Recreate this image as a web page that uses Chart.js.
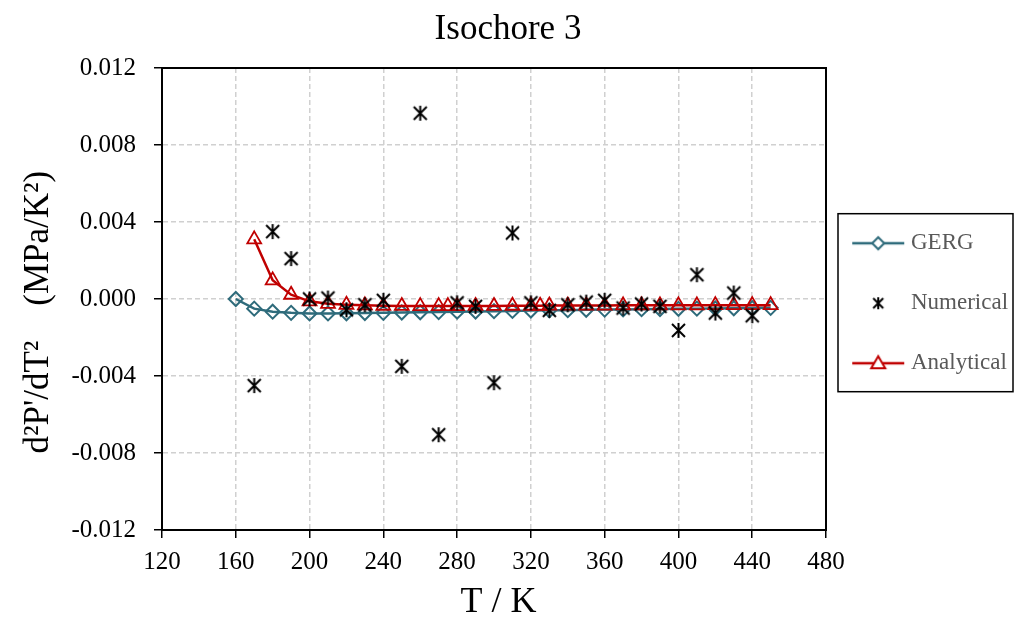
<!DOCTYPE html>
<html>
<head>
<meta charset="utf-8">
<script src="https://cdn.jsdelivr.net/npm/chart.js@4"></script>
<style>
  html, body { margin: 0; padding: 0; background: #fff; }
  #chart { display: block; }
</style>
</head>
<body>
<canvas id="chart" width="1016" height="628"></canvas>
<script>
// temperatures (K) and second derivative of pressure (MPa/K^2)
const gergT = [160, 170, 180, 190, 200, 210, 220, 230, 240, 250, 260, 270, 280, 290, 300,
  310, 320, 330, 340, 350, 360, 370, 380, 390, 400, 410, 420, 430, 440, 450];
const gergVals = [0.00000, -0.00050, -0.00066, -0.00072, -0.00075, -0.00075, -0.00074, -0.00073,
  -0.00072, -0.00070, -0.00069, -0.00068, -0.00066, -0.00065, -0.00063, -0.00062, -0.00060,
  -0.00059, -0.00058, -0.00056, -0.00055, -0.00054, -0.00053, -0.00052, -0.00051, -0.00050,
  -0.00049, -0.00048, -0.00047, -0.00046];

const numT = [170, 180, 190, 200, 210, 220, 230, 240, 250, 260, 270, 280, 290, 300,
  310, 320, 330, 340, 350, 360, 370, 380, 390, 400, 410, 420, 430, 440];
const numVals = [-0.00450, 0.00350, 0.00210, 0.00000, 0.00005, -0.00056, -0.00030, -0.00007,
  -0.00350, 0.00965, -0.00705, -0.00020, -0.00038, -0.00435, 0.00343, -0.00020, -0.00059,
  -0.00030, -0.00016, -0.00007, -0.00047, -0.00026, -0.00038, -0.00163, 0.00126, -0.00073,
  0.00031, -0.00087];

const anaT = [170, 180, 190, 200, 210, 220, 230, 240, 250, 260, 270, 275, 280, 290, 300,
  310, 320, 325, 330, 340, 350, 360, 370, 380, 390, 400, 410, 420, 430, 440, 450];
const anaVals = [0.00310, 0.00097, 0.00022, -0.00012, -0.00025, -0.00030, -0.00033, -0.00035,
  -0.00036, -0.00037, -0.00037, -0.00037, -0.00037, -0.00036, -0.00036, -0.00035, -0.00035,
  -0.00035, -0.00034, -0.00034, -0.00034, -0.00034, -0.00033, -0.00033, -0.00033, -0.00033,
  -0.00033, -0.00032, -0.00032, -0.00032, -0.00032];

const xTicks = [120, 160, 200, 240, 280, 320, 360, 400, 440, 480];
const yTicks = [-0.012, -0.008, -0.004, 0.000, 0.004, 0.008, 0.012];

const GERG_COLOR = "#2e6b7b";
const ANA_COLOR = "#c00000";
const SERIF = "'Liberation Serif', 'Times New Roman', serif";

const toPoints = (xs, ys) => xs.map((x, i) => ({ x: x, y: ys[i] }));

// asterisk marker: an X with a vertical bar through it
function makeAsterisk(size) {
  const c = document.createElement("canvas");
  c.width = size;
  c.height = size;
  const g = c.getContext("2d");
  const m = 2;
  g.strokeStyle = "#000";
  g.lineWidth = 2;
  g.beginPath();
  g.moveTo(m, m); g.lineTo(size - m, size - m);
  g.moveTo(size - m, m); g.lineTo(m, size - m);
  g.moveTo(size / 2, 1); g.lineTo(size / 2, size - 1);
  g.stroke();
  return c;
}

// legend swatch: line with the series marker in the middle
function makeSwatch(kind) {
  const c = document.createElement("canvas");
  c.width = 60;
  c.height = 20;
  const g = c.getContext("2d");
  const cx = 27, cy = 10;
  if (kind === "numerical") {
    g.drawImage(makeAsterisk(14), cx - 7, cy - 7);
    return c;
  }
  const col = kind === "gerg" ? GERG_COLOR : ANA_COLOR;
  g.strokeStyle = col;
  g.lineWidth = 2.5;
  g.beginPath();
  g.moveTo(1, cy); g.lineTo(53, cy);
  g.stroke();
  g.fillStyle = "#fff";
  g.lineWidth = 2;
  g.beginPath();
  if (kind === "gerg") {
    g.moveTo(cx, cy - 6); g.lineTo(cx + 6, cy); g.lineTo(cx, cy + 6); g.lineTo(cx - 6, cy);
  } else {
    g.moveTo(cx, cy - 7); g.lineTo(cx + 7, cy + 5); g.lineTo(cx - 7, cy + 5);
  }
  g.closePath();
  g.fill();
  g.stroke();
  return c;
}

const swatches = {
  GERG: makeSwatch("gerg"),
  Numerical: makeSwatch("numerical"),
  Analytical: makeSwatch("analytical"),
};

// black frame round the plot and a box round the legend
const framePlugin = {
  id: "frame",
  afterDraw(chart) {
    const { ctx, chartArea: a, legend } = chart;
    ctx.save();
    ctx.strokeStyle = "#000";
    ctx.lineWidth = 2;
    ctx.strokeRect(a.left, a.top, a.right - a.left, a.bottom - a.top);
    const hb = legend.legendHitBoxes;
    if (hb && hb.length) {
      const top = hb[0].top + 11 - 29;
      const bottom = hb[hb.length - 1].top + 11 + 29;
      ctx.lineWidth = 1.5;
      ctx.strokeRect(legend.left + 12, top, legend.right - legend.left - 15, bottom - top);
    }
    ctx.restore();
  },
};

const gridOpts = {
  color: "#d0d0d0",
  lineWidth: 1.5,
  tickColor: "#000",
  tickLength: 8,
  tickWidth: 1.5,
  tickBorderDash: [],
};

new Chart(document.getElementById("chart"), {
  type: "scatter",
  data: {
    datasets: [
      {
        label: "GERG",
        data: toPoints(gergT, gergVals),
        showLine: true,
        borderColor: GERG_COLOR,
        borderWidth: 2.5,
        pointStyle: "rectRot",
        pointRadius: 7,
        pointBorderWidth: 2,
        pointBackgroundColor: "rgba(255,255,255,0)",
        pointBorderColor: GERG_COLOR,
        order: 3,
      },
      {
        label: "Numerical",
        data: toPoints(numT, numVals),
        showLine: false,
        pointStyle: makeAsterisk(17),
        pointRadius: 8,
        order: 1,
      },
      {
        label: "Analytical",
        data: toPoints(anaT, anaVals),
        showLine: true,
        borderColor: ANA_COLOR,
        borderWidth: 2.5,
        pointStyle: "triangle",
        pointRadius: 8,
        pointBorderWidth: 1.8,
        pointBackgroundColor: "rgba(255,255,255,0)",
        pointBorderColor: ANA_COLOR,
        order: 2,
      },
    ],
  },
  options: {
    responsive: false,
    animation: false,
    layout: { padding: 0 },
    plugins: {
      title: {
        display: true,
        text: "Isochore 3",
        color: "#000",
        font: { family: SERIF, size: 35, weight: "normal" },
        padding: { top: 9, bottom: 17 },
      },
      legend: {
        position: "right",
        fullSize: false,
        maxWidth: 190,
        // blank title just nudges the entries down a little
        title: { display: true, text: " ", font: { size: 7 }, padding: 0 },
        labels: {
          usePointStyle: true,
          pointStyleWidth: 36.5,
          padding: 37,
          color: "#595959",
          font: { family: SERIF, size: 23 },
          generateLabels: (chart) =>
            chart.data.datasets.map((ds, i) => ({
              text: ds.label,
              pointStyle: swatches[ds.label],
              fontColor: "#595959",
              hidden: false,
              datasetIndex: i,
              lineWidth: 0,
            })),
        },
      },
      tooltip: { enabled: false },
    },
    scales: {
      x: {
        type: "linear",
        min: 120,
        max: 480,
        afterFit: (s) => { s.height = 98; },
        afterBuildTicks: (s) => { s.ticks = xTicks.map((v) => ({ value: v })); },
        ticks: {
          color: "#000",
          font: { family: SERIF, size: 25 },
          padding: 9,
          maxRotation: 0,
        },
        grid: gridOpts,
        border: { color: "#000", width: 2, dash: [5, 3] },
        title: {
          display: true,
          text: " T / K",
          color: "#000",
          font: { family: SERIF, size: 36 },
          padding: { top: 0, bottom: 4 },
        },
      },
      y: {
        type: "linear",
        min: -0.012,
        max: 0.012,
        afterFit: (s) => { s.width = 162; },
        afterBuildTicks: (s) => { s.ticks = yTicks.map((v) => ({ value: v })); },
        ticks: {
          color: "#000",
          font: { family: SERIF, size: 25 },
          padding: 18,
          callback: (v) => Number(v).toFixed(3),
        },
        grid: gridOpts,
        border: { color: "#000", width: 2, dash: [5, 3] },
        title: {
          display: true,
          text: "d²P'/dT²    (MPa/K²)   ",
          color: "#000",
          font: { family: SERIF, size: 35 },
          padding: { top: 18, bottom: 0 },
        },
      },
    },
  },
  plugins: [framePlugin],
});
</script>
</body>
</html>
